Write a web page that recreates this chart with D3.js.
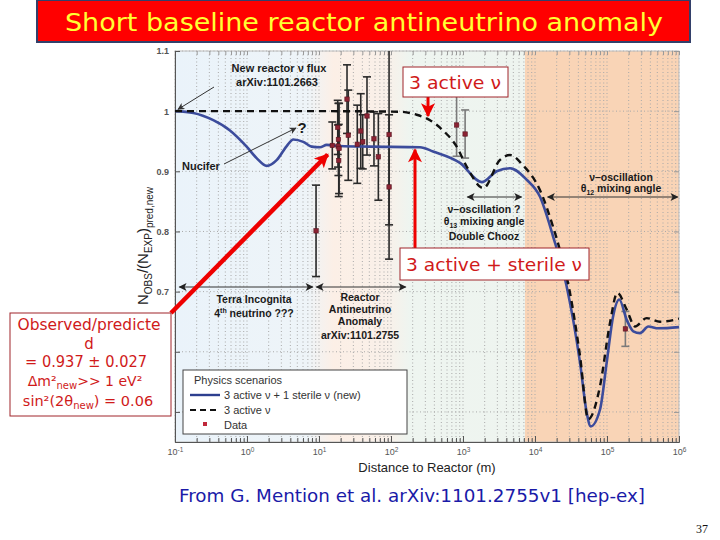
<!DOCTYPE html>
<html><head><meta charset="utf-8">
<script src="https://cdn.jsdelivr.net/npm/d3@7/dist/d3.min.js"></script>
<style>body{margin:0;background:#fff} svg{display:block}</style>
</head><body>
<svg id="c" width="720" height="540"></svg>
<script>
// ---- data ----
const sterileDistance = [0.1,0.18,0.34,0.58,0.99,1.36,1.88,2.6,3.56,4.4,6.05,7.9,10.3,12.8,19.6,50,253,383,908,1820,2940,4500,7670,11700,17800,27500,42200,52200,59400,80000,99000,122000,148000,188000,232000,287000,375000,516000,1000000];
const sterileRatio   = [1.0,0.997,0.985,0.968,0.941,0.922,0.909,0.919,0.942,0.953,0.949,0.941,0.94,0.944,0.942,0.941,0.94,0.933,0.914,0.882,0.9,0.905,0.886,0.858,0.792,0.709,0.582,0.499,0.476,0.504,0.582,0.66,0.687,0.653,0.634,0.631,0.642,0.639,0.641];
const activeDistance = [0.1,10,133,227,348,527,818,1125,1914,3260,4500,6810,11700,17800,22200,30600,42200,55000,80000,110000,139000,188000,245000,356000,545000,929000,1000000];
const activeRatio    = [1.0,1.0,0.999,0.994,0.985,0.968,0.941,0.908,0.872,0.919,0.927,0.91,0.869,0.808,0.769,0.698,0.593,0.488,0.543,0.648,0.698,0.67,0.642,0.656,0.65,0.654,0.655];
const dataDistance = [9.1,15.3,18.2,18.6,18.4,19.0,18.8,24.5,25.5,34,38,40.5,46.4,58,66.7,94,94,815,1070,180000];
const dataRatio    = [0.801,0.943,0.973,0.953,0.942,0.938,0.918,1.02,0.96,0.945,0.967,0.949,0.992,0.954,0.924,0.961,0.874,0.977,0.962,0.638];
const dataError    = [0.076,0.039,0.045,0.06,0.035,0.075,0.06,0.057,0.075,0.065,0.062,0.045,0.065,0.045,0.072,0.15,0.12,0.052,0.04,0.029];
const xTickValues = [0.1,1,10,100,1000,10000,100000,1000000];
const xTickExponents = ["-1","0","1","2","3","4","5","6"];
const yTickValues = [0.5,0.6,0.7,0.8,0.9,1.0,1.1];
const yTickLabels = ["0.5","0.6","0.7","0.8","0.9","1","1.1"];
const legendLabels = ["Physics scenarios","3 active \u03bd + 1 sterile \u03bd (new)","3 active  \u03bd","Data"];

const svg = d3.select("#c");
const L = 175, R = 679, T = 51, B = 442;
const x = d3.scaleLog().domain([0.1, 1e6]).range([L, R]);
const y = d3.scaleLinear().domain([0.45, 1.1]).range([B, T]);

const defs = svg.append("defs");
function marker(id, color, w, h) {
  defs.append("marker").attr("id", id).attr("viewBox", "0 0 10 10").attr("refX", 9).attr("refY", 5)
    .attr("markerWidth", w).attr("markerHeight", h).attr("orient", "auto-start-reverse")
    .attr("markerUnits", "userSpaceOnUse")
    .append("path").attr("d", "M0,0L10,5L0,10L2.5,5Z").attr("fill", color);
}
marker("arrK", "#222", 10, 8);
marker("arrG", "#333", 9, 7);
marker("arrR", "#e00", 16, 14);
defs.append("clipPath").attr("id", "plotclip").append("rect")
  .attr("x", L).attr("y", T).attr("width", R - L).attr("height", B - T);

// background shading
const gr = defs.append("linearGradient").attr("id", "bg").attr("x1", 0).attr("x2", 1).attr("y1", 0).attr("y2", 0);
const off = d => (x(d) - L) / (R - L);
[[0.1, "#eaf3fa"], [7, "#eef4f8"], [16, "#fcefe6"], [90, "#f9f0e9"], [180, "#eef5f0"], [7300, "#eef4ef"]].forEach(s =>
  gr.append("stop").attr("offset", off(s[0])).attr("stop-color", s[1]));
gr.append("stop").attr("offset", off(7300) + 0.0001).attr("stop-color", "#f9d4b6");
gr.append("stop").attr("offset", 1).attr("stop-color", "#f9d4b6");
svg.append("rect").attr("x", L).attr("y", T).attr("width", R - L).attr("height", B - T).attr("fill", "url(#bg)");

// grid
const grid = svg.append("g").attr("stroke", "#a9a9a9").attr("stroke-dasharray", "1,2.5").attr("stroke-width", 1);
x.ticks().forEach(t => grid.append("line").attr("x1", x(t)).attr("x2", x(t)).attr("y1", T).attr("y2", B));
yTickValues.forEach(t => grid.append("line").attr("x1", L).attr("x2", R).attr("y1", y(t)).attr("y2", y(t)));

// frame
svg.append("rect").attr("x", L).attr("y", T).attr("width", R - L).attr("height", B - T)
  .attr("fill", "none").attr("stroke", "#bbb").attr("stroke-width", 1);

// axes
const minorX = x.ticks();
const gxB = svg.append("g").attr("transform", `translate(0,${B})`)
  .call(d3.axisBottom(x).tickValues(minorX).tickSize(-4).tickFormat(""));
gxB.select(".domain").attr("stroke", "#555");
gxB.selectAll(".tick line").attr("stroke", "#555");
gxB.selectAll(".tick text").remove();
const gxL = svg.append("g").attr("transform", `translate(0,${B})`)
  .call(d3.axisBottom(x).tickValues(xTickValues).tickSize(-6).tickPadding(6)
    .tickFormat((d, i) => "10"));
gxL.select(".domain").remove();
gxL.selectAll(".tick line").attr("stroke", "#555");
gxL.selectAll(".tick text").attr("font-family", "Liberation Sans, Arial, sans-serif").attr("font-size", 9)
  .attr("fill", "#555").attr("dy", "0.78em")
  .each(function (d, i) {
    d3.select(this).append("tspan").attr("dy", "-0.45em").attr("font-size", 6.5).text(xTickExponents[i]);
  });
const gxT = svg.append("g").attr("transform", `translate(0,${T})`)
  .call(d3.axisTop(x).tickValues(minorX).tickSize(-4).tickFormat(""));
gxT.select(".domain").remove();
gxT.selectAll(".tick line").attr("stroke", "#999");
gxT.selectAll(".tick text").remove();

const gyL = svg.append("g").attr("transform", `translate(${L},0)`)
  .call(d3.axisLeft(y).tickValues(yTickValues).tickSize(-5).tickPadding(6).tickFormat((d, i) => yTickLabels[i]));
gyL.select(".domain").attr("stroke", "#555");
gyL.selectAll(".tick line").attr("stroke", "#555");
gyL.selectAll(".tick text").attr("font-family", "Liberation Sans, Arial, sans-serif").attr("font-size", 9)
  .attr("font-weight", "bold").attr("fill", "#555");
const gyR = svg.append("g").attr("transform", `translate(${R},0)`)
  .call(d3.axisRight(y).tickValues(yTickValues).tickSize(-5).tickFormat(""));
gyR.select(".domain").remove();
gyR.selectAll(".tick line").attr("stroke", "#999");
gyR.selectAll(".tick text").remove();

// axis titles
svg.append("text").attr("x", 427).attr("y", 472).attr("text-anchor", "middle")
  .attr("font-family", "Liberation Sans, Arial, sans-serif").attr("font-size", 13).attr("fill", "#222")
  .text("Distance to Reactor (m)");
const yt = svg.append("text").attr("transform", "translate(148,246) rotate(-90)").attr("text-anchor", "middle")
  .attr("font-family", "Liberation Sans, Arial, sans-serif").attr("font-size", 15).attr("fill", "#222");
yt.append("tspan").text("N");
yt.append("tspan").attr("font-size", 10).attr("dy", 4).text("OBS");
yt.append("tspan").attr("dy", -4).text("/(N");
yt.append("tspan").attr("font-size", 10).attr("dy", 4).text("EXP");
yt.append("tspan").attr("dy", -4).text(")");
yt.append("tspan").attr("font-size", 10).attr("dy", 5).text("pred,new");

// plot contents
const plot = svg.append("g").attr("clip-path", "url(#plotclip)");
const line = d3.line().x(d => x(d[0])).y(d => y(d[1])).curve(d3.curveMonotoneX);

// error bars
const bars = plot.append("g");
dataDistance.forEach((d, i) => {
  const col = d > 500 ? "#7a7a7a" : "#2a2a2a";
  const cx = x(d), y0 = y(dataRatio[i] - dataError[i]), y1 = y(dataRatio[i] + dataError[i]);
  bars.append("line").attr("x1", cx).attr("x2", cx).attr("y1", y0).attr("y2", y1).attr("stroke", col).attr("stroke-width", 1.6);
  [y0, y1].forEach(yy => bars.append("line").attr("x1", cx - 4).attr("x2", cx + 4).attr("y1", yy).attr("y2", yy)
    .attr("stroke", col).attr("stroke-width", 1.6));
});

plot.append("path").datum(sterileDistance.map((d, i) => [d, sterileRatio[i]])).attr("d", line)
  .attr("fill", "none").attr("stroke", "#3c4c9c").attr("stroke-width", 2.6);
plot.append("path").datum(activeDistance.map((d, i) => [d, activeRatio[i]])).attr("d", line)
  .attr("fill", "none").attr("stroke", "#111").attr("stroke-width", 2.4).attr("stroke-dasharray", "7,5");

plot.append("g").selectAll("rect").data(dataDistance).join("rect")
  .attr("x", d => x(d) - 2.2).attr("y", (d, i) => y(dataRatio[i]) - 2.2).attr("width", 4.4).attr("height", 4.4)
  .attr("fill", "#8b2333").attr("stroke", "#5a1420").attr("stroke-width", 0.6);

// black annotations
const fontB = "Liberation Sans, Arial, sans-serif";
function btext(xx, yy, s, size, anchor) {
  return svg.append("text").attr("x", xx).attr("y", yy).attr("text-anchor", anchor || "middle")
    .attr("font-family", fontB).attr("font-weight", "bold").attr("font-size", size || 11).attr("fill", "#1a1a1a").text(s);
}
btext(279, 72, "New reactor \u03bd flux");
btext(277, 86, "arXiv:1101.2663");
svg.append("line").attr("x1", 214).attr("y1", 87).attr("x2", x(0.11)).attr("y2", y(1.003))
  .attr("stroke", "#333").attr("stroke-width", 1).attr("marker-end", "url(#arrG)");
btext(182, 170, "Nucifer", 11, "start");
btext(302, 133, "?", 15, "middle");
svg.append("line").attr("x1", 224).attr("y1", 164).attr("x2", 296).attr("y2", 128)
  .attr("stroke", "#333").attr("stroke-width", 1).attr("marker-end", "url(#arrG)");

function darrow(d0, d1, yy) {
  svg.append("line").attr("x1", x(d0)).attr("x2", x(d1)).attr("y1", yy).attr("y2", yy)
    .attr("stroke", "#333").attr("stroke-width", 1.2)
    .attr("marker-start", "url(#arrK)").attr("marker-end", "url(#arrK)");
}
darrow(0.115, 8.2, 287);
darrow(9.2, 160, 287);
btext(254, 303, "Terra Incognita", 10.5);
const t4 = btext(254, 317, "4", 10.5);
t4.append("tspan").attr("font-size", 7).attr("dy", -4).text("th");
t4.append("tspan").attr("dy", 4).text(" neutrino ???");
btext(360, 301, "Reactor", 10.5);
btext(360, 313, "Antineutrino", 10.5);
btext(360, 325, "Anomaly", 10.5);
btext(360, 339, "arXiv:1101.2755", 10.5);

darrow(1150, 6500, 197);
btext(484, 213, "\u03bd\u2013oscillation ?", 10.5);
const t13 = btext(484, 225, "\u03b8", 10.5);
t13.append("tspan").attr("font-size", 7).attr("dy", 3).text("13");
t13.append("tspan").attr("dy", -3).text(" mixing angle");
btext(484, 240, "Double Chooz", 10.5);
darrow(15000, 960000, 197);
btext(621, 181, "\u03bd\u2013oscillation", 10.5);
const t12 = btext(621, 192, "\u03b8", 10.5);
t12.append("tspan").attr("font-size", 7).attr("dy", 3).text("12");
t12.append("tspan").attr("dy", -3).text(" mixing angle");

// legend
const lg = svg.append("g");
lg.append("rect").attr("x", 183).attr("y", 370).attr("width", 224).attr("height", 64)
  .attr("fill", "#fff").attr("stroke", "#444").attr("stroke-width", 1);
const lf = t => lg.append("text").attr("font-family", fontB).attr("font-size", 11).attr("fill", "#333").text(t);
lf(legendLabels[0]).attr("x", 194).attr("y", 384);
lg.append("line").attr("x1", 190).attr("x2", 220).attr("y1", 395).attr("y2", 395).attr("stroke", "#2d3f8f").attr("stroke-width", 2.4);
lf(legendLabels[1]).attr("x", 224).attr("y", 399);
lg.append("line").attr("x1", 190).attr("x2", 220).attr("y1", 410).attr("y2", 410).attr("stroke", "#111").attr("stroke-width", 2).attr("stroke-dasharray", "6,4");
lf(legendLabels[2]).attr("x", 224).attr("y", 414);
lg.append("rect").attr("x", 203).attr("y", 422).attr("width", 4).attr("height", 4).attr("fill", "#c0283a");
lf(legendLabels[3]).attr("x", 224).attr("y", 429);

// red callouts
const fontC = "DejaVu Sans, Noto Sans, sans-serif";
svg.append("line").attr("x1", 171).attr("y1", 313).attr("x2", x(13.2)).attr("y2", y(0.928))
  .attr("stroke", "#e00").attr("stroke-width", 4.5).attr("marker-end", "url(#arrR)");
svg.append("rect").attr("x", 10).attr("y", 313).attr("width", 161).attr("height", 103)
  .attr("fill", "#fff").attr("stroke", "#a0242a").attr("stroke-width", 1);
function rtext(xx, yy, size) {
  return svg.append("text").attr("x", xx).attr("y", yy).attr("text-anchor", "middle")
    .attr("font-family", fontC).attr("font-size", size).attr("fill", "#d01a1a");
}
rtext(89, 330, 15).attr("textLength", 143).attr("lengthAdjust", "spacingAndGlyphs").text("Observed/predicte");
rtext(89, 349, 15).text("d");
rtext(86, 367, 15).attr("textLength", 122).attr("lengthAdjust", "spacingAndGlyphs").text("= 0.937 \u00b1 0.027");
const dm = rtext(85, 386, 14);
dm.append("tspan").text("\u0394m\u00b2");
dm.append("tspan").attr("font-size", 10).attr("dy", 3).text("new");
dm.append("tspan").attr("dy", -3).text(">> 1 eV\u00b2");
const s2 = rtext(88, 406, 14.5);
s2.append("tspan").text("sin\u00b2(2\u03b8");
s2.append("tspan").attr("font-size", 10).attr("dy", 3).text("new");
s2.append("tspan").attr("dy", -3).text(") = 0.06");

svg.append("line").attr("x1", 428).attr("y1", 97).attr("x2", 428).attr("y2", y(0.992))
  .attr("stroke", "#e00").attr("stroke-width", 3).attr("marker-end", "url(#arrR)");
svg.append("rect").attr("x", 403).attr("y", 67).attr("width", 105).attr("height", 30)
  .attr("fill", "#fff").attr("stroke", "#a0242a").attr("stroke-width", 1);
rtext(455, 89, 18).attr("textLength", 92).attr("lengthAdjust", "spacingAndGlyphs").text("3 active \u03bd");

svg.append("line").attr("x1", 415).attr("y1", 248).attr("x2", 415).attr("y2", y(0.936))
  .attr("stroke", "#e00").attr("stroke-width", 3).attr("marker-end", "url(#arrR)");
svg.append("rect").attr("x", 400).attr("y", 248).attr("width", 189).attr("height", 32)
  .attr("fill", "#fff").attr("stroke", "#a0242a").attr("stroke-width", 1);
rtext(494, 271, 18).attr("textLength", 176).attr("lengthAdjust", "spacingAndGlyphs").text("3 active + sterile \u03bd");

// title banner
svg.append("rect").attr("x", 37).attr("y", 0).attr("width", 653).attr("height", 42)
  .attr("fill", "#ff0000").attr("stroke", "#33406a").attr("stroke-width", 2);
svg.append("text").attr("x", 364).attr("y", 31).attr("text-anchor", "middle").attr("font-family", fontC)
  .attr("font-size", 24).attr("fill", "#ffff33").attr("textLength", 598).attr("lengthAdjust", "spacingAndGlyphs")
  .text("Short baseline reactor antineutrino anomaly");

// footer
svg.append("text").attr("x", 179).attr("y", 502).attr("font-family", fontC).attr("font-size", 17)
  .attr("fill", "#1a1aa8").attr("textLength", 466).attr("lengthAdjust", "spacingAndGlyphs")
  .text("From G. Mention et al. arXiv:1101.2755v1 [hep-ex]");
svg.append("text").attr("x", 708).attr("y", 533).attr("text-anchor", "end").attr("font-family", "Liberation Serif, serif")
  .attr("font-size", 12).attr("fill", "#111").text("37");
</script>
</body></html>
